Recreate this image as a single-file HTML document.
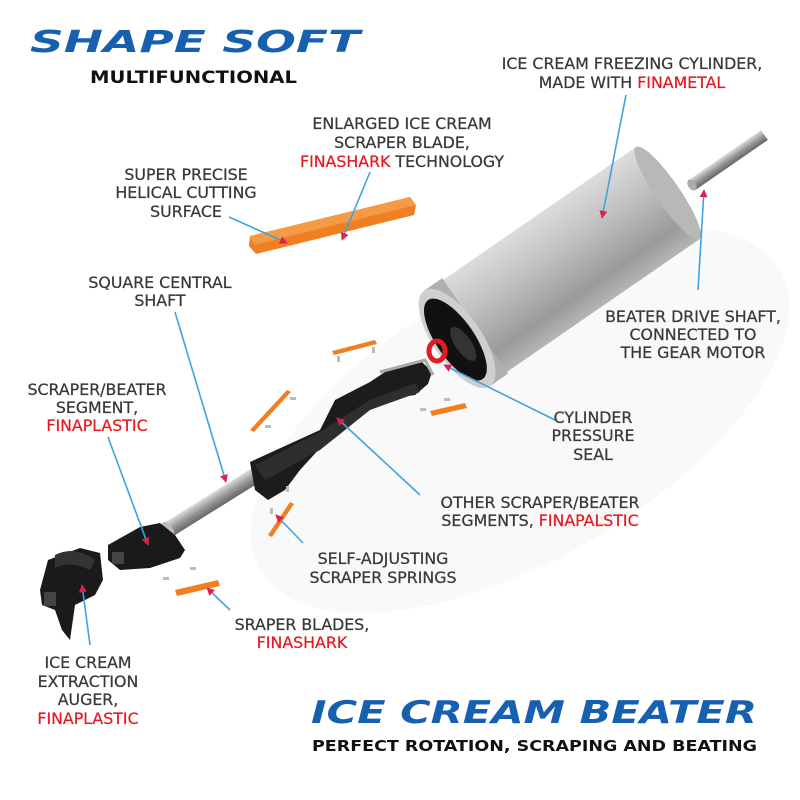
<!DOCTYPE html>
<html><head><meta charset="utf-8"><style>
html,body{margin:0;padding:0;background:#fff}
svg{display:block}
.l{font-family:"DejaVu Sans","Liberation Sans",sans-serif;font-size:15.8px;fill:#383838;text-anchor:middle;stroke:#383838;stroke-width:0.25}
.r{fill:#e31b23;stroke:#e31b23}
</style></head><body>
<svg width="800" height="800" viewBox="0 0 800 800" xmlns="http://www.w3.org/2000/svg">
<defs>
<linearGradient id="cyl" x1="0" y1="0" x2="0" y2="1">
<stop offset="0" stop-color="#dcdcdc"/><stop offset="0.35" stop-color="#c2c2c2"/><stop offset="0.8" stop-color="#9a9a9a"/><stop offset="1" stop-color="#b5b5b5"/>
</linearGradient>
<linearGradient id="sh" x1="0" y1="0" x2="0" y2="1">
<stop offset="0" stop-color="#ddd"/><stop offset="0.5" stop-color="#999"/><stop offset="1" stop-color="#666"/>
</linearGradient>
<marker id="a" viewBox="0 0 10 10" refX="9" refY="5" markerWidth="5" markerHeight="5" orient="auto"><path d="M0,0L10,5L0,10z" fill="#e0204a"/></marker>
</defs>
<rect width="800" height="800" fill="#fff"/>
<ellipse cx="520" cy="420" rx="300" ry="140" fill="#f9f9f9" transform="rotate(-30 520 420)"/>

<!-- titles -->
<text x="30" y="52" font-family="DejaVu Sans" font-weight="bold" font-style="italic" font-size="30" fill="#1760b0" textLength="330" lengthAdjust="spacingAndGlyphs">SHAPE SOFT</text>
<text x="90" y="83" font-family="DejaVu Sans" font-weight="bold" font-size="17" fill="#111" textLength="207" lengthAdjust="spacingAndGlyphs">MULTIFUNCTIONAL</text>
<text x="311" y="723" font-family="DejaVu Sans" font-weight="bold" font-style="italic" font-size="31" fill="#1760b0" textLength="446" lengthAdjust="spacingAndGlyphs">ICE CREAM BEATER</text>
<text x="312" y="751" font-family="DejaVu Sans" font-weight="bold" font-size="15.5" fill="#111" textLength="445" lengthAdjust="spacingAndGlyphs">PERFECT ROTATION, SCRAPING AND BEATING</text>

<!-- cylinder -->
<g transform="translate(462,335) rotate(-34.6)">
<rect x="0" y="-56" width="250" height="112" fill="url(#cyl)"/>
<ellipse cx="250" cy="0" rx="12" ry="56" fill="#b8b8b8"/>
<rect x="-6" y="-58" width="22" height="116" fill="#b0b0b0"/>
<ellipse cx="-6" cy="0" rx="24" ry="58" fill="#cfcfcf"/>
<ellipse cx="-8" cy="0" rx="19" ry="48" fill="#111"/>
<ellipse cx="-4" cy="8" rx="8" ry="20" fill="#333"/>
</g>
<!-- drive shaft -->
<g transform="translate(692,185) rotate(-34.6)">
<rect x="0" y="-6" width="88" height="12" fill="url(#sh)"/>
<ellipse cx="0" cy="0" rx="4" ry="6" fill="#aaa"/>
</g>
<!-- seal -->
<ellipse cx="437" cy="351" rx="8" ry="10" fill="none" stroke="#e01b24" stroke-width="5"/>

<!-- top orange blade -->
<path d="M250,236 L410,197 L416,205 L414,215 L256,254 L249,246 Z" fill="#f07f22"/>
<path d="M250,236 L410,197 L416,205 L254,245 Z" fill="#f59a45"/>

<!-- beater shaft -->
<g transform="translate(168,530) rotate(-32)">
<rect x="0" y="-8" width="120" height="16" fill="url(#sh)"/>
<ellipse cx="0" cy="0" rx="5" ry="9" fill="#bbb"/>
</g>
<!-- beater body -->
<path d="M250,462 L320,430 L335,400 L370,382 L385,372 L420,360 L432,372 L428,384 L415,395 L395,398 L370,405 L320,448 L300,470 L285,490 L268,500 L255,490 Z" fill="#1c1c1c"/>
<path d="M255,465 L320,432 L370,400 L415,383 L420,392 L370,410 L320,450 L265,480 Z" fill="#2e2e2e"/>
<path d="M380,372 L425,360 L433,375" fill="none" stroke="#aaa" stroke-width="3"/>
<!-- small orange blades -->
<path d="M332,351 L375,340 L377,344 L334,355 Z" fill="#f07f22"/>
<path d="M250,430 L287,390 L291,392 L254,432 Z" fill="#f07f22"/>
<path d="M430,411 L465,403 L467,408 L432,416 Z" fill="#f07f22"/>
<path d="M268,535 L290,502 L294,504 L272,537 Z" fill="#f07f22"/>
<path d="M175,590 L218,580 L220,586 L177,596 Z" fill="#f07f22"/>
<!-- springs -->
<g fill="#bbb">
<rect x="337" y="356" width="3" height="6"/><rect x="372" y="347" width="3" height="6"/>
<rect x="290" y="397" width="6" height="3"/><rect x="265" y="425" width="6" height="3"/>
<rect x="420" y="408" width="6" height="3"/><rect x="444" y="398" width="6" height="3"/>
<rect x="286" y="486" width="3" height="6"/><rect x="270" y="508" width="3" height="6"/>
<rect x="163" y="577" width="6" height="3"/><rect x="190" y="567" width="6" height="3"/>
</g>
<!-- segment -->
<path d="M108,545 L140,527 L160,523 L175,535 L185,550 L180,558 L150,568 L120,570 L108,560 Z" fill="#1a1a1a"/>
<rect x="112" y="552" width="12" height="12" fill="#444"/>
<!-- auger -->
<path d="M48,560 L80,548 L100,553 L103,580 L95,595 L75,605 L70,640 L62,630 L55,610 L42,605 L40,590 Z" fill="#1a1a1a"/>
<path d="M55,555 Q75,545 95,560 L90,570 Q70,560 55,568 Z" fill="#333"/>
<rect x="44" y="592" width="12" height="14" fill="#444"/>

<!-- leader lines -->
<g stroke="#3fa3e0" stroke-width="1.6" fill="none" marker-end="url(#a)">
<line x1="626" y1="95" x2="602" y2="218"/>
<line x1="370" y1="172" x2="342" y2="240"/>
<line x1="229" y1="217" x2="287" y2="243"/>
<line x1="175" y1="312" x2="226" y2="482"/>
<line x1="698" y1="290" x2="704" y2="190"/>
<line x1="108" y1="437" x2="148" y2="545"/>
<line x1="555" y1="420" x2="444" y2="365"/>
<line x1="420" y1="495" x2="337" y2="418"/>
<line x1="303" y1="543" x2="276" y2="515"/>
<line x1="230" y1="610" x2="207" y2="588"/>
<line x1="90" y1="645" x2="82" y2="585"/>
</g>

<!-- labels -->
<text class="l" x="632" y="69">ICE CREAM FREEZING CYLINDER,</text>
<text class="l" x="632" y="88">MADE WITH <tspan class="r">FINAMETAL</tspan></text>
<text class="l" x="402" y="129">ENLARGED ICE CREAM</text>
<text class="l" x="402" y="148">SCRAPER BLADE,</text>
<text class="l" x="402" y="167"><tspan class="r">FINASHARK</tspan> TECHNOLOGY</text>
<text class="l" x="186" y="180">SUPER PRECISE</text>
<text class="l" x="186" y="198">HELICAL CUTTING</text>
<text class="l" x="186" y="217">SURFACE</text>
<text class="l" x="160" y="288">SQUARE CENTRAL</text>
<text class="l" x="160" y="306">SHAFT</text>
<text class="l" x="693" y="322">BEATER DRIVE SHAFT,</text>
<text class="l" x="693" y="340">CONNECTED TO</text>
<text class="l" x="693" y="358">THE GEAR MOTOR</text>
<text class="l" x="97" y="395">SCRAPER/BEATER</text>
<text class="l" x="97" y="413">SEGMENT,</text>
<text class="l r" x="97" y="431">FINAPLASTIC</text>
<text class="l" x="593" y="423">CYLINDER</text>
<text class="l" x="593" y="441">PRESSURE</text>
<text class="l" x="593" y="460">SEAL</text>
<text class="l" x="540" y="508">OTHER SCRAPER/BEATER</text>
<text class="l" x="540" y="526">SEGMENTS, <tspan class="r">FINAPALSTIC</tspan></text>
<text class="l" x="383" y="564">SELF-ADJUSTING</text>
<text class="l" x="383" y="583">SCRAPER SPRINGS</text>
<text class="l" x="302" y="630">SRAPER BLADES,</text>
<text class="l r" x="302" y="648">FINASHARK</text>
<text class="l" x="88" y="668">ICE CREAM</text>
<text class="l" x="88" y="687">EXTRACTION</text>
<text class="l" x="88" y="705">AUGER,</text>
<text class="l r" x="88" y="724">FINAPLASTIC</text>
</svg>
</body></html>
